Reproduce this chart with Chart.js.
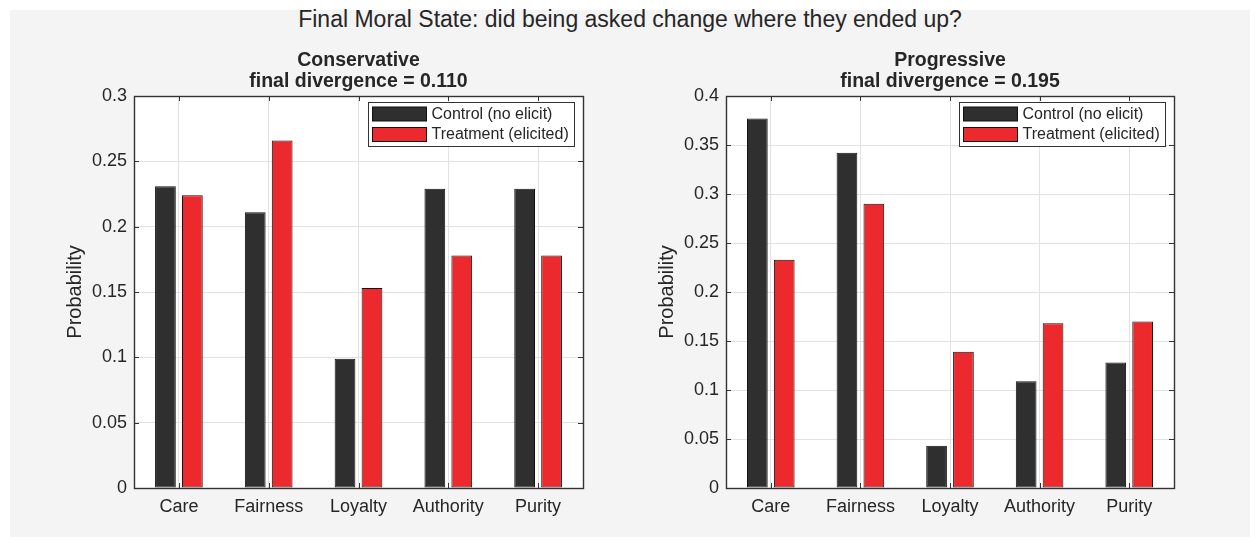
<!DOCTYPE html>
<html lang="en">
<head>
  <meta charset="UTF-8">
  <title>Final Moral State</title>
  <script src="https://cdn.jsdelivr.net/npm/chart.js@4.4.1/dist/chart.umd.min.js"></script>
  <style>
    body {
      margin: 0;
      background: #fff;
      font-family: "Liberation Sans", Arial, sans-serif;
    }
    .panel {
      position: absolute;
      left: 10px;
      top: 10px;
      width: 1240px;
      height: 527px;
      background: #f4f4f4;
    }
    .main-title {
      position: absolute;
      left: 10px;
      width: 1240px;
      top: 6px;
      text-align: center;
      font-size: 23px;
      color: #262626;
    }
    canvas {
      position: absolute;
    }
    #left { left: 10px; top: 48px; }
    #right { left: 602px; top: 48px; }
  </style>
</head>
<body>
  <div class="panel"></div>
  <div class="main-title">Final Moral State: did being asked change where they ended up?</div>
  <canvas id="left" width="592" height="489"></canvas>
  <canvas id="right" width="648" height="489"></canvas>
  <script>
    const categories = ['Care', 'Fairness', 'Loyalty', 'Authority', 'Purity'];
    const seriesNames = ['Control (no elicit)', 'Treatment (elicited)'];

    const consControl = [0.231, 0.211, 0.099, 0.229, 0.229];
    const consTreatment = [0.224, 0.266, 0.153, 0.178, 0.178];
    const progControl = [0.377, 0.342, 0.043, 0.109, 0.128];
    const progTreatment = [0.233, 0.290, 0.139, 0.168, 0.170];

    const consTitle = ['Conservative', 'final divergence = 0.110'];
    const progTitle = ['Progressive', 'final divergence = 0.195'];

    const FONT = '"Liberation Sans", Arial, sans-serif';
    const TEXT = '#262626';
    const colors = ['#2f2f2f', '#ec2a2e'];

    // white plot background, axis box with inward ticks, legend in the corner
    const matlabAxes = {
      id: 'matlabAxes',
      beforeDraw(chart) {
        const a = chart.chartArea, ctx = chart.ctx;
        ctx.save();
        ctx.fillStyle = '#fff';
        ctx.fillRect(a.left, a.top, a.right - a.left, a.bottom - a.top);
        ctx.restore();
      },
      afterDraw(chart) {
        const a = chart.chartArea, ctx = chart.ctx;
        const xs = chart.scales.x, ys = chart.scales.y;
        ctx.save();
        ctx.strokeStyle = '#333';
        ctx.lineWidth = 1;
        ctx.beginPath();
        ys.ticks.forEach((t, i) => {
          const y = Math.round(ys.getPixelForTick(i)) + 0.5;
          ctx.moveTo(a.left, y); ctx.lineTo(a.left + 5, y);
          ctx.moveTo(a.right, y); ctx.lineTo(a.right - 5, y);
        });
        xs.ticks.forEach((t, i) => {
          const x = Math.round(xs.getPixelForTick(i)) + 0.5;
          ctx.moveTo(x, a.bottom); ctx.lineTo(x, a.bottom - 5);
          ctx.moveTo(x, a.top); ctx.lineTo(x, a.top + 5);
        });
        ctx.stroke();
        ctx.lineWidth = 1.4;
        ctx.strokeRect(Math.round(a.left) + 0.5, Math.round(a.top) + 0.5,
          Math.round(a.right - a.left), Math.round(a.bottom - a.top));

        // legend box
        const bw = 206, bh = 44;
        const bx = Math.round(a.right - 9 - bw) + 0.5, by = Math.round(a.top + 6) + 0.5;
        ctx.fillStyle = '#fff';
        ctx.fillRect(bx, by, bw, bh);
        ctx.lineWidth = 1;
        ctx.strokeStyle = '#333';
        ctx.strokeRect(bx, by, bw, bh);
        ctx.font = '16px ' + FONT;
        ctx.textBaseline = 'middle';
        chart.data.datasets.forEach((ds, i) => {
          const sy = by + 4.5 + i * 20.5;
          ctx.fillStyle = ds.backgroundColor;
          ctx.fillRect(bx + 4, sy, 54, 14);
          ctx.strokeStyle = '#111';
          ctx.strokeRect(bx + 4, sy, 54, 14);
          ctx.fillStyle = TEXT;
          ctx.fillText(ds.label, bx + 63, sy + 7.5);
        });
        ctx.restore();
      }
    };

    function makeChart(id, control, treatment, yMax, title, padRight) {
      return new Chart(document.getElementById(id), {
        type: 'bar',
        data: {
          labels: categories,
          datasets: [
            { label: seriesNames[0], data: control, backgroundColor: colors[0] },
            { label: seriesNames[1], data: treatment, backgroundColor: colors[1] }
          ]
        },
        options: {
          responsive: false,
          animation: false,
          devicePixelRatio: 1,
          layout: { padding: { left: 0, right: padRight, top: 0, bottom: 0 } },
          datasets: {
            bar: {
              borderColor: '#111',
              borderWidth: 1,
              borderSkipped: false,
              categoryPercentage: 0.6,
              barPercentage: 0.77
            }
          },
          plugins: {
            legend: { display: false },
            tooltip: { enabled: false },
            title: {
              display: true,
              text: title,
              fullSize: false,
              color: TEXT,
              font: { family: FONT, size: 19.5, weight: 'bold', lineHeight: '21px' },
              padding: { top: 2, bottom: 4 }
            }
          },
          scales: {
            x: {
              offset: true,
              grid: { offset: false, color: '#e2e2e2', drawTicks: false },
              border: { display: false },
              ticks: { color: TEXT, font: { family: FONT, size: 18 }, padding: 8, maxRotation: 0 },
              afterFit: s => { s.height = 49; }
            },
            y: {
              min: 0,
              max: yMax,
              grid: { color: '#e2e2e2', drawTicks: false },
              border: { display: false },
              ticks: {
                stepSize: 0.05,
                color: TEXT,
                font: { family: FONT, size: 18 },
                padding: 7,
                callback: v => String(+v.toFixed(2))
              },
              title: {
                display: true,
                text: 'Probability',
                color: TEXT,
                font: { family: FONT, size: 20 },
                padding: { top: 53, bottom: 0 }
              },
              afterFit: s => { s.width = 124; }
            }
          }
        },
        plugins: [matlabAxes]
      });
    }

    makeChart('left', consControl, consTreatment, 0.3, consTitle, 19);
    makeChart('right', progControl, progTreatment, 0.4, progTitle, 76);
  </script>
</body>
</html>
